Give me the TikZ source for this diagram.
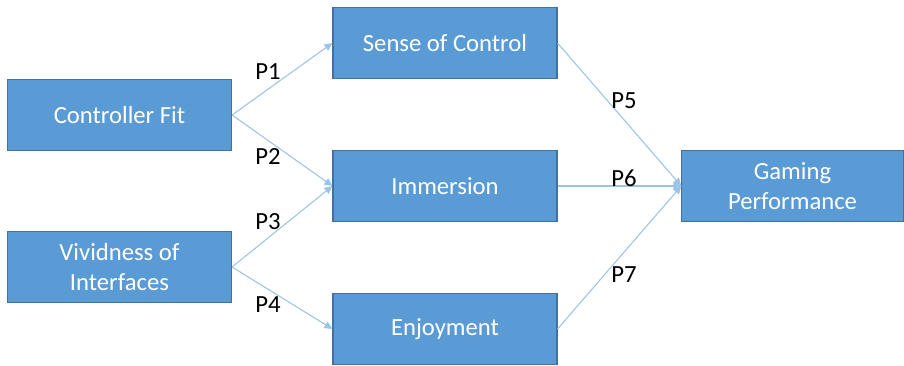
\documentclass[tikz,border=0pt]{standalone}
\usepackage{fontspec}
\setmainfont{Carlito}
\usetikzlibrary{arrows.meta, positioning}
\definecolor{boxfill}{HTML}{5B9BD5}
\definecolor{boxline}{HTML}{41719C}
\definecolor{linkcol}{HTML}{9DC3E6}

\begin{document}
\begin{tikzpicture}[
    x=0.75pt, y=-0.75pt,
    construct/.style={draw=boxline, line width=0.8pt, fill=boxfill,
                      minimum width=168pt, minimum height=53pt,
                      text=white, align=center, font=\fontsize{18.5}{22.5}\selectfont},
    path_label/.style={font=\fontsize{18.5}{22.5}\selectfont, text=black},
    myarrow/.style={-{Triangle[length=6pt, width=5.5pt]}, linkcol, line width=0.8pt},
]
\useasboundingbox (0,0) rectangle (904,366);

% ===================== CONSTRUCTS =====================
\node[construct] (fit)   at (119.5, 115) {Controller Fit};
\node[construct] (vivid) at (119.5, 267) {Vividness of\\Interfaces};

\node[construct] (control)   at (445, 43)  {Sense of Control};
\node[construct] (immersion) at (445, 186) {Immersion};
\node[construct] (enjoy)     at (445, 329) {Enjoyment};

\node[construct, minimum width=166pt] (perf) at (792.5, 186) {Gaming\\Performance};

% ===================== PATHS =====================
\draw[myarrow] (fit.east) -- (control.west);
\draw[myarrow] (fit.east) -- (immersion.west);
\draw[myarrow] (vivid.east) -- (immersion.west);
\draw[myarrow] (vivid.east) -- (enjoy.west);

\draw[myarrow] (control.east) -- (perf.west);
\draw[myarrow] (immersion.east) -- (perf.west);
\draw[myarrow] (enjoy.east) -- (perf.west);

% Path labels
\node[path_label] (p1) at (268, 72)  {P1};
\node[path_label] (p2) at (268, 157) {P2};
\node[path_label] (p3) at (268, 222) {P3};
\node[path_label] (p4) at (268, 305) {P4};
\node[path_label] (p5) at (624, 101) {P5};
\node[path_label] (p6) at (624, 178) {P6};
\node[path_label] (p7) at (624, 275) {P7};

\end{tikzpicture}
\end{document}
